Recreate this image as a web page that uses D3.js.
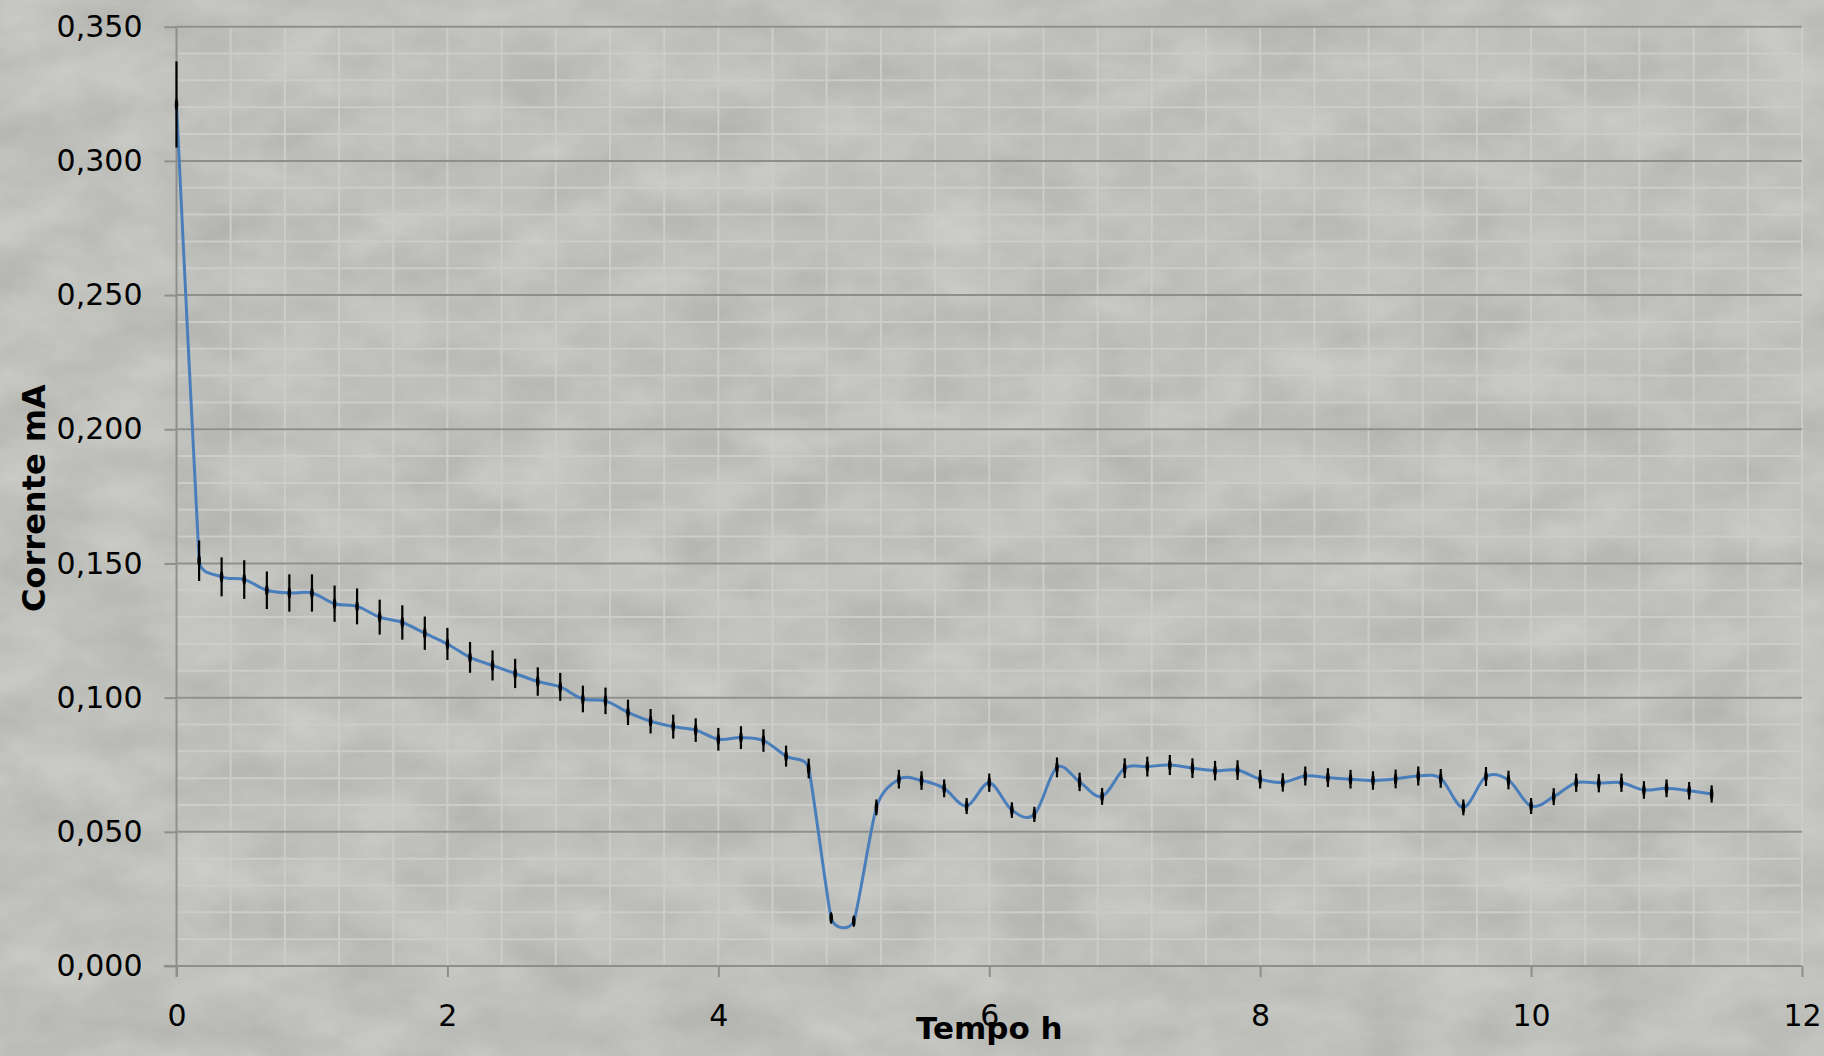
<!DOCTYPE html>
<html><head><meta charset="utf-8">
<script src="https://cdn.jsdelivr.net/npm/d3@7"></script>
<style>html,body{margin:0;padding:0;background:#bfc0bb;overflow:hidden}</style>
</head><body>
<svg id="chart" width="1824" height="1056"></svg>
<script>
// ---- data ----
const timeHours = [0.000,0.167,0.333,0.500,0.667,0.833,1.000,1.167,1.333,1.500,1.667,1.833,
  2.000,2.167,2.333,2.500,2.667,2.833,3.000,3.167,3.333,3.500,3.667,3.833,
  4.000,4.167,4.333,4.500,4.667,4.833,5.000,5.167,5.333,5.500,5.667,5.833,
  6.000,6.167,6.333,6.500,6.667,6.833,7.000,7.167,7.333,7.500,7.667,7.833,
  8.000,8.167,8.333,8.500,8.667,8.833,9.000,9.167,9.333,9.500,9.667,9.833,
  10.000,10.167,10.333,10.500,10.667,10.833,11.000,11.167,11.333];
const currentMA = [0.321,0.151,0.145,0.144,0.140,0.139,0.139,0.135,0.134,0.130,0.128,0.124,
  0.120,0.115,0.112,0.109,0.106,0.104,0.0995,0.0988,0.0945,0.0912,0.0892,0.0879,
  0.0845,0.0851,0.0840,0.0782,0.0736,0.0179,0.0167,0.0591,0.0696,0.0691,0.0662,0.0596,
  0.0683,0.0581,0.0565,0.0740,0.0686,0.0632,0.0737,0.0743,0.0749,0.0737,0.0728,0.0730,
  0.0696,0.0684,0.0708,0.0702,0.0696,0.0691,0.0697,0.0708,0.0699,0.0591,0.0706,0.0693,
  0.0596,0.0631,0.0683,0.0681,0.0683,0.0656,0.0662,0.0653,0.0641];
const errorPercent = 5; // percentage error bars
const xTickValues = [0,2,4,6,8,10,12];
const yTickValues = [0,0.05,0.10,0.15,0.20,0.25,0.30,0.35];
const xTitle = "Tempo h";
const yTitle = "Corrente mA";

// ---- layout ----
const W = 1824, H = 1056;
const m = {left:176.5, right:22, top:26.7, bottom:90};
const svg = d3.select("#chart");
const defs = svg.append("defs");

const f = defs.append("filter").attr("id","tex").attr("x",0).attr("y",0)
  .attr("width","100%").attr("height","100%").attr("color-interpolation-filters","sRGB");
f.append("feTurbulence").attr("type","fractalNoise").attr("baseFrequency","0.012 0.02")
  .attr("numOctaves",5).attr("seed",11).attr("result","n");
f.append("feColorMatrix").attr("type","matrix")
  .attr("values","0.12 0 0 0 0.69  0.12 0 0 0 0.695  0.12 0 0 0 0.675  0 0 0 0 1");
svg.append("rect").attr("width",W).attr("height",H).attr("fill","#bfc0bb");
svg.append("rect").attr("width",W).attr("height",H).attr("filter","url(#tex)");

const x = d3.scaleLinear().domain([0,12]).range([m.left, W - m.right]);
const y = d3.scaleLinear().domain([0,0.35]).range([H - m.bottom, m.top]);

const locale = d3.formatLocale({decimal:",", thousands:".", grouping:[3], currency:["",""]});
const fmtY = locale.format(".3f");

// minor gridlines
const g = svg.append("g");
g.selectAll("line.hmin").data(d3.range(1,36).map(k=>k*0.01)).join("line")
  .attr("x1",x(0)).attr("x2",x(12)).attr("y1",d=>y(d)).attr("y2",d=>y(d))
  .attr("stroke","#cbcccb").attr("stroke-width",2);
g.selectAll("line.vmin").data(d3.range(1,31).map(k=>k*0.4)).join("line")
  .attr("x1",d=>x(d)).attr("x2",d=>x(d)).attr("y1",y(0)).attr("y2",y(0.35))
  .attr("stroke","#cbcccb").attr("stroke-width",2);
// major horizontal gridlines
g.selectAll("line.hmaj").data(yTickValues.slice(1)).join("line")
  .attr("x1",x(0)).attr("x2",x(12)).attr("y1",d=>y(d)).attr("y2",d=>y(d))
  .attr("stroke","#8e8f8d").attr("stroke-width",2);

// axes
const yAxis = svg.append("g").attr("transform",`translate(${x(0)},0)`)
  .call(d3.axisLeft(y).tickValues(yTickValues).tickFormat(fmtY).tickSize(12).tickPadding(22));
const xAxis = svg.append("g").attr("transform",`translate(0,${y(0)})`)
  .call(d3.axisBottom(x).tickValues(xTickValues).tickFormat(d3.format("d")).tickSize(11));
[yAxis,xAxis].forEach(a=>{
  a.select(".domain").attr("stroke","#8e8f8d").attr("stroke-width",2);
  a.selectAll(".tick line").attr("stroke","#8e8f8d").attr("stroke-width",2);
  a.selectAll("text").attr("fill","#000").style("font-family","'DejaVu Sans', sans-serif");
});
yAxis.select(".domain").attr("d",`M0,${y(0)+11}V${y(0.35)}`);
xAxis.select(".domain").attr("d",`M164,0H${x(12)}`);
yAxis.selectAll("text").style("font-size","30px");
xAxis.selectAll("text").style("font-size","30px").attr("y",60).attr("dy",null);

// smoothed line (Excel-style Bezier smoothing: tangent P[i+1]-P[i-1],
// control distance limited to d02/6 and half of the shorter neighbouring segment)
const data = timeHours.map((t,i)=>({t, v: currentMA[i]}));
const pts = data.map(d=>[x(d.t), y(d.v)]);
function smoothPath(p){
  const path = d3.path();
  const n = p.length;
  const dist = (a,b)=>Math.hypot(b[0]-a[0], b[1]-a[1]);
  const ctrl = i => {
    const a = p[Math.max(0,i-1)], b = p[i], c = p[Math.min(n-1,i+1)];
    const d02 = dist(a,c), d01 = dist(a,b), d12 = dist(b,c);
    if (d02 === 0) return [0,0];
    const k = Math.min(d02/6, d01/2, d12/2) / d02;
    return [(c[0]-a[0])*k, (c[1]-a[1])*k];
  };
  const T = p.map((_,i)=>ctrl(i));
  path.moveTo(p[0][0], p[0][1]);
  for (let i=0;i<n-1;i++){
    path.bezierCurveTo(p[i][0]+T[i][0], p[i][1]+T[i][1],
                       p[i+1][0]-T[i+1][0], p[i+1][1]-T[i+1][1],
                       p[i+1][0], p[i+1][1]);
  }
  return path.toString();
}
svg.append("path").attr("d", smoothPath(pts))
  .attr("fill","none").attr("stroke","#4a7ebb").attr("stroke-width",3);

// error bars and markers
const eb = svg.append("g");
eb.selectAll("line").data(data).join("line")
  .attr("x1",d=>x(d.t)).attr("x2",d=>x(d.t))
  .attr("y1",d=>y(d.v*(1+errorPercent/100))).attr("y2",d=>y(d.v*(1-errorPercent/100)))
  .attr("stroke","#000").attr("stroke-width",2.2);
eb.selectAll("ellipse").data(data).join("ellipse")
  .attr("cx",d=>x(d.t)).attr("cy",d=>y(d.v)).attr("rx",1.8).attr("ry",6).attr("fill","#000");

// titles
svg.append("text").attr("x",(x(0)+x(12))/2).attr("y",1039).attr("text-anchor","middle")
  .style("font-family","'DejaVu Sans', sans-serif").style("font-weight","bold").style("font-size","31px")
  .text(xTitle);
svg.append("text").attr("transform",`translate(45,498) rotate(-90)`).attr("text-anchor","middle")
  .style("font-family","'DejaVu Sans', sans-serif").style("font-weight","bold").style("font-size","32px")
  .text(yTitle);
</script>
</body></html>
